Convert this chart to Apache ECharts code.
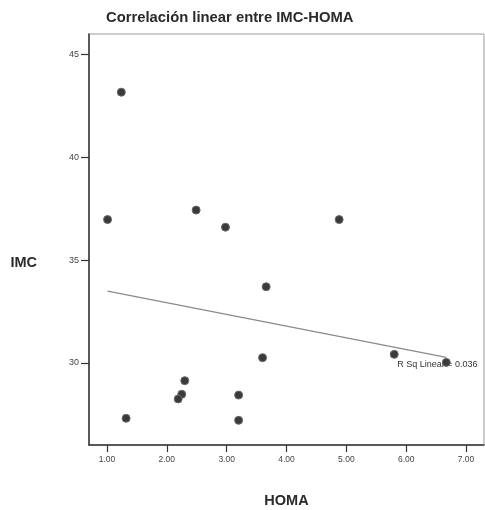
<!DOCTYPE html>
<html>
<head>
<meta charset="utf-8">
<script src="https://cdn.jsdelivr.net/npm/echarts@6/dist/echarts.min.js"></script>
<style>html,body{margin:0;padding:0;background:#fff}#c{width:485px;height:510px}</style>
</head>
<body>
<div id="c"></div>
<script>
var titleText = 'Correlación linear entre IMC-HOMA';
var xName = 'HOMA';
var yName = 'IMC';
var fitLabel = 'R Sq Linear = 0.036';
var homa = [1.24, 1.01, 1.32, 2.49, 2.98, 3.66, 3.60, 2.30, 2.25, 2.19, 3.20, 3.20, 4.88, 5.80, 6.67];
var imc  = [43.17, 36.97, 27.30, 37.43, 36.60, 33.70, 30.25, 29.13, 28.47, 28.24, 28.43, 27.20, 36.97, 30.41, 30.02];
var xTicks = [1, 2, 3, 4, 5, 6, 7];
var yTicks = [30, 35, 40, 45];

var pts = homa.map(function (x, i) { return [x, imc[i]]; });
var n = homa.length, mx = 0, my = 0;
homa.forEach(function (x) { mx += x; }); mx /= n;
imc.forEach(function (y) { my += y; }); my /= n;
var sxy = 0, sxx = 0;
for (var i = 0; i < n; i++) { sxy += (homa[i] - mx) * (imc[i] - my); sxx += (homa[i] - mx) * (homa[i] - mx); }
var slope = sxy / sxx, icpt = my - slope * mx;
var xmin = Math.min.apply(null, homa), xmax = Math.max.apply(null, homa);

var FF = "'Liberation Sans', Arial, sans-serif";
var chart = echarts.init(document.getElementById('c'));
chart.setOption({
  animation: false,
  backgroundColor: '#fff',
  title: {
    text: titleText, left: 101, top: 5,
    textStyle: { fontFamily: FF, fontSize: 14.8, fontWeight: 'bold', color: '#2a2a2a' }
  },
  grid: { left: 89, right: 1, top: 34, bottom: 65, show: true, borderColor: '#9a9a9a', borderWidth: 1,
          containLabel: false, outerBoundsMode: 'none' },
  xAxis: {
    type: 'value', min: 0.7, max: 7.3,
    name: xName, nameLocation: 'middle', nameGap: 48,
    nameTextStyle: { fontFamily: FF, fontSize: 14.5, fontWeight: 'bold', color: '#2a2a2a' },
    axisLine: { show: true, lineStyle: { color: '#333', width: 1.5 } },
    axisTick: { show: true, length: 7, customValues: xTicks, lineStyle: { color: '#333', width: 1.2 } },
    axisLabel: { customValues: xTicks, formatter: function (v) { return v.toFixed(2); }, fontFamily: FF, fontSize: 8.5, color: '#444', margin: 10 },
    splitLine: { show: false }
  },
  yAxis: {
    type: 'value', min: 26, max: 46,
    name: yName, nameLocation: 'middle', nameGap: 52, nameRotate: 0,
    nameTextStyle: { fontFamily: FF, fontSize: 14.5, fontWeight: 'bold', color: '#2a2a2a', verticalAlign: 'top', padding: [16, 0, 0, 0] },
    axisLine: { show: true, lineStyle: { color: '#333', width: 1.5 } },
    axisTick: { show: true, length: 8, customValues: yTicks, lineStyle: { color: '#333', width: 1.2 } },
    axisLabel: { customValues: yTicks, fontFamily: FF, fontSize: 9, color: '#444', margin: 10 },
    splitLine: { show: false }
  },
  series: [
    {
      type: 'line',
      data: [
        { value: [xmin, icpt + slope * xmin] },
        { value: [xmax, icpt + slope * xmax],
          label: { show: true, formatter: fitLabel, position: 'bottom', distance: 3, offset: [-9, 0],
                   fontFamily: FF, fontSize: 9, color: '#333' } }
      ],
      symbol: 'circle', symbolSize: 0,
      lineStyle: { color: '#8a8a8a', width: 1.2 },
      z: 1
    },
    {
      type: 'scatter',
      data: pts,
      symbol: 'circle', symbolSize: 8,
      itemStyle: { color: '#3a3a3a', borderColor: '#6a6a6a', borderWidth: 1, opacity: 1 },
      z: 3
    }
  ]
});
</script>
</body>
</html>
